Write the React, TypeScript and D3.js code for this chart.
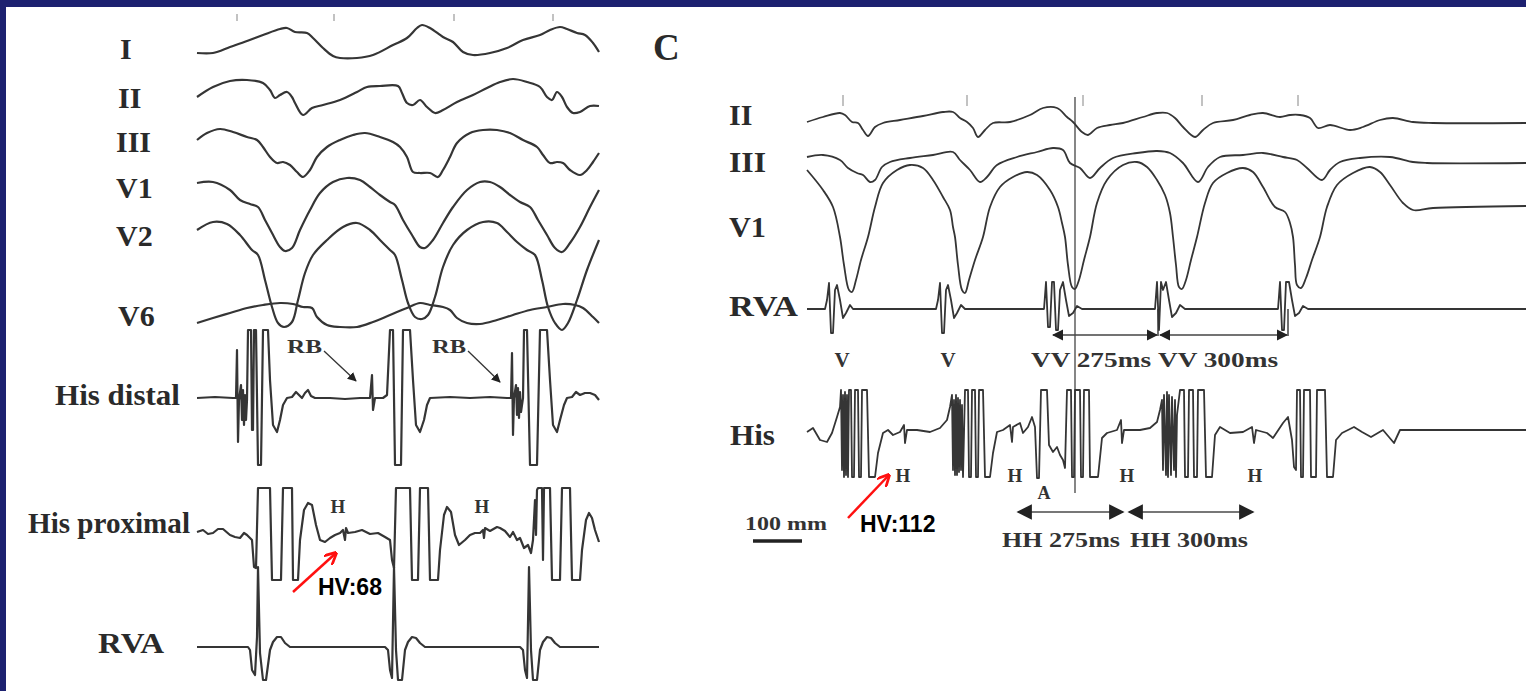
import React from "react";
import * as d3 from "d3";

type Pt = [number, number];

// ---------- Left panel traces: [time (samples), amplitude] ----------
const leftI: Pt[] = [[0,-3],[16,-3],[33,3],[50,9],[66,15],[83,21],[90,22],[98,18],[110,17],[116,12],[126,2],[136,-6],[143,-8],[160,-8],[176,-5],[196,5],[210,12],[220,22],[225,25],[233,22],[246,13],[256,8],[266,-2],[276,-5],[293,-3],[310,2],[326,10],[343,15],[353,20],[363,23],[370,21],[380,17],[388,15],[396,7],[402,-2]];
const leftII: Pt[] = [[0,0],[16,10],[33,16],[50,17],[66,14],[73,7],[78,-1],[83,2],[90,5],[95,0],[98,-6],[106,-18],[115,-11],[126,-8],[143,-3],[160,5],[170,10],[183,11],[201,11],[205,4],[210,-6],[216,-8],[223,-3],[230,-10],[238,-16],[246,-13],[260,-5],[276,2],[290,9],[303,15],[316,18],[330,15],[343,10],[350,0],[355,-3],[360,5],[365,0],[370,-10],[376,-16],[383,-15],[393,-9],[402,-9]];
const leftIII: Pt[] = [[0,0],[10,7],[23,11],[36,8],[50,3],[60,0],[66,-7],[73,-17],[80,-23],[86,-22],[93,-25],[100,-32],[106,-37],[113,-30],[120,-17],[130,-7],[143,0],[156,5],[168,7],[183,3],[196,-2],[203,-7],[210,-17],[216,-32],[223,-33],[233,-33],[241,-37],[246,-30],[253,-17],[260,-3],[273,7],[286,10],[300,10],[313,7],[326,0],[340,-7],[346,-15],[353,-23],[360,-22],[366,-23],[373,-30],[383,-35],[390,-30],[396,-22],[402,-13]];
const leftV1: Pt[] = [[0,2],[16,3],[33,-5],[43,-15],[53,-19],[61,-22],[68,-35],[75,-48],[83,-62],[88,-66],[95,-63],[103,-45],[113,-25],[123,-8],[136,3],[150,7],[163,5],[173,-2],[183,-10],[193,-17],[198,-20],[206,-35],[215,-50],[223,-62],[228,-63],[236,-55],[246,-38],[256,-22],[270,-5],[283,3],[293,3],[303,-2],[313,-10],[323,-17],[333,-22],[341,-35],[350,-50],[358,-63],[365,-67],[373,-58],[383,-42],[393,-22],[402,-5]];
const leftV2: Pt[] = [[0,7],[16,15],[30,13],[43,2],[55,-13],[61,-18],[68,-43],[75,-70],[81,-86],[87,-90],[95,-85],[101,-63],[108,-36],[116,-18],[130,-3],[146,10],[160,14],[173,7],[183,-3],[193,-13],[198,-18],[205,-43],[211,-66],[218,-80],[225,-82],[231,-78],[238,-60],[246,-30],[256,-8],[270,7],[286,15],[300,14],[310,5],[320,-5],[330,-13],[338,-18],[345,-43],[351,-70],[358,-86],[365,-93],[371,-86],[380,-63],[390,-33],[402,-3]];
const leftV6: Pt[] = [[0,-5],[16,0],[33,5],[50,10],[66,13],[83,15],[96,14],[106,11],[115,10],[120,1],[130,-7],[143,-9],[160,-9],[176,-4],[193,3],[210,10],[223,15],[233,13],[246,11],[253,8],[260,0],[270,-5],[283,-6],[300,-2],[316,3],[333,8],[350,11],[366,14],[378,13],[386,10],[396,1],[402,-5]];
const leftHisDistal: Pt[] = [[0,0],[18,1],[36,0],[39,0],[40,48],[41,-44],[42,-2],[44,13],[45,-22],[46,8],[47,-27],[48,3],[49,-22],[50,-2],[51,68],[54,68],[55,-32],[56,-32],[57,68],[59,68],[61,-67],[64,-67],[66,68],[71,68],[73,18],[76,-27],[80,-34],[83,-22],[86,-7],[90,0],[95,1],[99,6],[102,3],[105,0],[108,5],[111,8],[114,2],[118,0],[133,0],[148,-1],[163,0],[173,0],[175,23],[176,-12],[178,0],[186,0],[190,3],[193,68],[196,68],[198,-67],[204,-67],[206,68],[213,68],[216,18],[219,-27],[223,-34],[227,-22],[230,-7],[233,0],[253,1],[273,0],[293,1],[310,0],[314,0],[315,45],[316,-37],[317,0],[319,13],[320,-17],[321,10],[322,-20],[323,6],[324,-14],[326,0],[327,68],[330,68],[333,-67],[340,-67],[343,68],[350,68],[353,18],[356,-27],[360,-34],[363,-22],[367,-7],[370,0],[375,1],[379,6],[383,3],[388,5],[393,5],[398,3],[402,-2]];
const leftHisProximal: Pt[] = [[0,3],[6,5],[11,1],[16,2],[21,6],[26,6],[33,0],[38,-2],[43,-3],[47,2],[50,0],[55,-5],[57,-32],[59,-33],[61,47],[73,47],[75,-45],[84,-45],[86,47],[95,47],[96,-45],[101,-45],[103,-5],[107,25],[111,32],[115,30],[119,10],[123,-5],[128,-7],[133,-3],[138,0],[143,2],[146,5],[148,-5],[149,7],[151,2],[158,3],[165,5],[173,1],[181,2],[188,-2],[193,-5],[195,-25],[197,-33],[199,47],[213,47],[215,-45],[221,-45],[223,47],[231,47],[233,-45],[241,-45],[243,-15],[247,20],[250,28],[254,23],[258,0],[262,-10],[268,-5],[273,0],[278,2],[283,2],[286,5],[287,-3],[288,7],[293,4],[300,8],[303,7],[308,4],[313,-2],[316,3],[320,-5],[323,-3],[327,-13],[331,-10],[334,-18],[336,-5],[338,35],[339,0],[340,45],[341,47],[345,47],[346,-25],[347,47],[353,47],[355,-45],[363,-45],[365,47],[373,47],[375,-45],[383,-45],[385,-15],[389,15],[392,22],[395,17],[398,5],[402,-7]];
const leftRVA: Pt[] = [[0,0],[51,0],[53,-3],[55,-23],[58,-28],[60,10],[61,80],[63,-6],[66,-33],[69,-33],[73,-3],[76,5],[80,10],[84,10],[88,4],[93,0],[188,0],[191,-3],[193,-23],[195,-31],[197,80],[199,-3],[201,-33],[205,-33],[208,-3],[211,5],[215,10],[219,9],[223,4],[228,0],[323,0],[326,-3],[328,-23],[330,-31],[332,80],[334,-3],[336,-33],[340,-33],[343,-3],[346,5],[350,10],[354,9],[358,4],[363,0],[402,0]];

// ---------- Right panel (C) traces ----------
const rightII: Pt[] = [[0,-2],[16,3],[33,7],[38,5],[45,-2],[51,-3],[56,-10],[61,-16],[68,-7],[76,-3],[93,0],[116,4],[136,8],[146,8],[153,2],[160,-2],[166,-8],[171,-17],[178,-10],[186,-3],[203,-2],[223,5],[236,12],[250,12],[260,3],[266,-2],[275,-12],[281,-15],[290,-8],[303,-5],[316,-3],[336,3],[350,7],[360,7],[368,2],[376,-7],[388,-17],[396,-10],[406,-3],[426,0],[443,5],[456,7],[473,3],[483,5],[493,5],[503,2],[511,-8],[523,-5],[543,-10],[556,-7],[573,0],[586,2],[606,-2],[626,-3],[719,-3]];
const rightIII: Pt[] = [[0,3],[16,5],[33,0],[41,-8],[50,-13],[56,-15],[63,-22],[68,-20],[75,-7],[83,-2],[103,2],[126,5],[146,8],[153,0],[163,-10],[173,-22],[180,-17],[190,-5],[210,3],[230,8],[246,12],[256,10],[263,-3],[273,-8],[283,-18],[293,-8],[306,2],[330,7],[350,9],[363,7],[376,-3],[391,-22],[401,-7],[413,3],[436,5],[456,7],[476,3],[490,0],[500,-8],[515,-20],[523,-10],[533,-2],[553,2],[583,3],[606,-2],[620,-3],[719,-3]];
const rightV1: Pt[] = [[0,40],[16,20],[26,3],[33,-27],[37,-55],[42,-80],[45,-82],[49,-70],[54,-50],[61,-27],[68,3],[76,27],[90,40],[103,45],[116,42],[126,30],[136,13],[143,0],[146,-17],[148,-27],[151,-55],[155,-80],[158,-83],[162,-70],[168,-50],[176,-27],[183,3],[193,23],[206,33],[220,38],[230,35],[243,20],[251,3],[255,-13],[258,-27],[261,-55],[265,-77],[268,-79],[272,-70],[277,-50],[283,-27],[290,7],[300,30],[316,45],[330,48],[340,43],[350,30],[358,15],[363,-3],[366,-27],[369,-55],[372,-77],[375,-79],[379,-70],[384,-50],[390,-27],[398,7],[406,27],[420,37],[436,42],[446,38],[456,23],[468,3],[478,-2],[483,-13],[486,-27],[488,-55],[490,-75],[494,-78],[499,-68],[505,-50],[513,-27],[520,3],[530,25],[546,37],[563,43],[573,38],[583,25],[596,7],[606,0],[626,2],[719,4]];
const rightRVA: Pt[] = [[0,0],[18,0],[20,9],[22,26],[24,-24],[26,-24],[28,19],[30,24],[33,9],[36,-9],[39,-4],[43,4],[46,0],[129,0],[131,9],[133,26],[135,-24],[137,-24],[139,19],[141,24],[144,9],[147,-9],[150,-4],[154,4],[158,0],[237,0],[239,27],[241,-18],[243,-18],[245,27],[247,27],[249,-21],[251,-21],[253,19],[256,27],[259,9],[262,-7],[266,-4],[270,3],[275,0],[348,0],[350,27],[352,-21],[354,27],[356,19],[359,27],[362,9],[365,-8],[369,-4],[373,4],[378,0],[471,0],[473,27],[475,-21],[477,-21],[479,27],[482,27],[485,9],[488,-7],[492,-4],[496,3],[501,0],[719,0]];
const rightHis: Pt[] = [[0,0],[6,4],[13,-8],[20,-10],[25,-1],[30,15],[33,25],[34,42],[35,-38],[36,37],[37,-45],[38,40],[39,-43],[40,37],[41,-45],[42,42],[44,42],[45,-45],[47,-45],[48,42],[51,42],[52,-45],[54,-45],[55,42],[60,42],[62,-45],[68,-45],[71,-21],[76,-1],[81,2],[86,-3],[93,0],[97,7],[98,-11],[100,2],[110,2],[123,0],[133,4],[140,12],[143,25],[145,37],[146,-38],[147,32],[148,-43],[149,37],[150,-43],[151,34],[152,-40],[153,32],[154,-38],[155,27],[156,-45],[158,42],[161,42],[162,-45],[164,-45],[165,42],[168,42],[169,-45],[171,-45],[172,42],[176,42],[178,-45],[183,-45],[186,-21],[190,0],[196,2],[203,7],[205,-10],[206,5],[213,9],[216,-1],[221,5],[225,15],[228,5],[230,-46],[232,-46],[234,42],[240,42],[242,-13],[246,-20],[250,-15],[253,-23],[256,-28],[258,-36],[260,42],[264,42],[265,-45],[267,-45],[268,42],[273,42],[274,-45],[276,-45],[277,42],[282,42],[283,-45],[291,-45],[295,-6],[300,-1],[310,2],[314,12],[315,-11],[317,2],[333,2],[343,4],[350,10],[353,22],[355,32],[356,-38],[357,37],[359,-43],[360,40],[361,-45],[362,37],[364,-43],[365,35],[367,-38],[368,32],[369,-45],[370,17],[373,42],[377,42],[378,-45],[381,-45],[382,42],[386,42],[387,-45],[390,-45],[391,42],[397,42],[399,-45],[405,-45],[408,-3],[413,5],[423,-1],[436,0],[445,5],[447,-11],[449,2],[460,-1],[466,-6],[476,9],[481,15],[485,-8],[487,-35],[489,-38],[490,42],[493,42],[494,-45],[496,-45],[497,42],[503,42],[504,-45],[509,-45],[510,42],[518,42],[520,-45],[526,-45],[529,-8],[535,-1],[547,5],[555,0],[564,-5],[576,2],[587,-11],[593,2],[622,2],[719,2]];

// ---------- Timing marks and annotations (time positions) ----------
const leftTimeTicks = [40, 137, 257, 356];
const rightTimeTicks = [36, 160, 276, 395, 491];
const rightMarkerTime = 268;
const leftHLabels = [141, 285];
const rightHLabels = [96, 208, 320, 448];
const rightVLabels = [35, 141];
const rightALabel = 237;
// [start, end, label centre, text]
const vvIntervals: [number, number, number, string][] = [[246, 350, 284, "VV 275ms"], [353, 480, 411, "VV 300ms"]];
const hhIntervals: [number, number, number, string][] = [[211, 316, 254, "HH 275ms"], [322, 446, 382, "HH 300ms"]];

const W = 1526, H = 691;
const xL = d3.scaleLinear().domain([0, 403]).range([197, 600]);
const xR = d3.scaleLinear().domain([0, 719]).range([807, 1526]);
const amp = (base: number) => d3.scaleLinear().domain([-100, 100]).range([base + 100, base - 100]);

const leftLeads = [
  { label: "I", data: leftI, base: 50, lx: 120, ly: 59, smooth: true },
  { label: "II", data: leftII, base: 97, lx: 118, ly: 108, smooth: true },
  { label: "III", data: leftIII, base: 140, lx: 116, ly: 152, smooth: true },
  { label: "V1", data: leftV1, base: 185, lx: 116, ly: 198, smooth: true },
  { label: "V2", data: leftV2, base: 237, lx: 116, ly: 246, smooth: true },
  { label: "V6", data: leftV6, base: 318, lx: 118, ly: 326, smooth: true },
  { label: "His distal", data: leftHisDistal, base: 398, lx: 55, ly: 405, len: 125 },
  { label: "His proximal", data: leftHisProximal, base: 535, lx: 28, ly: 533, len: 162 },
  { label: "RVA", data: leftRVA, base: 647, lx: 98, ly: 653, len: 66 },
];
const rightLeads = [
  { label: "II", data: rightII, base: 120, lx: 729, ly: 125, smooth: true },
  { label: "III", data: rightIII, base: 160, lx: 729, ly: 172, len: 37, smooth: true },
  { label: "V1", data: rightV1, base: 210, lx: 729, ly: 237, len: 37, smooth: true },
  { label: "RVA", data: rightRVA, base: 309, lx: 729, ly: 316, len: 69 },
  { label: "His", data: rightHis, base: 432, lx: 730, ly: 445, len: 45 },
];

const serif = "'Liberation Serif', 'Times New Roman', serif";
const sans = "'Liberation Sans', Arial, sans-serif";

export default function App() {
  const pathFor = (data: Pt[], xs: d3.ScaleLinear<number, number>, base: number, smooth?: boolean) => {
    const ys = amp(base);
    const gen = d3.line<Pt>().x((d) => xs(d[0])).y((d) => ys(d[1]));
    if (smooth) gen.curve(d3.curveCatmullRom.alpha(0.5));
    return gen(data) || "";
  };
  return (
    <div style={{ position: "absolute", left: 0, top: 0, width: W, height: H }}>
      <svg width={W} height={H} style={{ display: "block" }}>
        <defs>
          <marker id="blk" viewBox="0 0 10 10" refX="9" refY="5" markerWidth="7" markerHeight="7" orient="auto-start-reverse">
            <path d="M0,0 L10,5 L0,10 z" fill="#222" />
          </marker>
          <marker id="red" viewBox="0 0 10 10" refX="9" refY="5" markerWidth="5" markerHeight="5" orient="auto">
            <path d="M0,0 L10,5 L0,10" fill="none" stroke="#ff1010" strokeWidth="2.2" />
          </marker>
        </defs>
        <rect x={0} y={0} width={W} height={H} fill="#ffffff" />
        <rect x={0} y={0} width={W} height={7} fill="#1d2170" />
        <rect x={0} y={0} width={6} height={H} fill="#1d2170" />

        {/* Left panel */}
        {leftTimeTicks.map((t, i) => (
          <line key={"lt" + i} x1={xL(t)} x2={xL(t)} y1={14} y2={21} stroke="#999" strokeWidth={1.2} />
        ))}
        {leftLeads.map((l) => (
          <g key={"L" + l.label}>
            <path d={pathFor(l.data, xL, l.base, l.smooth)} fill="none" stroke="#353535" strokeWidth={2.2} strokeLinejoin="round" />
            <text x={l.lx} y={l.ly} fontFamily={serif} fontWeight="bold" fontSize={30} fill="#2a2a2a"
              {...(l.len ? { textLength: l.len, lengthAdjust: "spacingAndGlyphs" } : {})}>{l.label}</text>
          </g>
        ))}
        <text x={287} y={353} fontFamily={serif} fontWeight="bold" fontSize={19} fill="#333" textLength={35} lengthAdjust="spacingAndGlyphs">RB</text>
        <text x={432} y={353} fontFamily={serif} fontWeight="bold" fontSize={19} fill="#333" textLength={34} lengthAdjust="spacingAndGlyphs">RB</text>
        <line x1={324} y1={351} x2={356} y2={381} stroke="#333" strokeWidth={1.3} markerEnd="url(#blk)" />
        <line x1={468} y1={351} x2={500} y2={382} stroke="#333" strokeWidth={1.3} markerEnd="url(#blk)" />
        {leftHLabels.map((t, i) => (
          <text key={"lh" + i} x={xL(t)} y={513} textAnchor="middle" fontFamily={serif} fontWeight="bold" fontSize={19} fill="#333">H</text>
        ))}
        <line x1={293} y1={592} x2={336} y2={553} stroke="#ff1010" strokeWidth={2.5} markerEnd="url(#red)" />
        <text x={318} y={595} fontFamily={sans} fontWeight="bold" fontSize={23} fill="#000">HV:68</text>

        {/* Right panel */}
        <text x={653} y={60} fontFamily={serif} fontWeight="bold" fontSize={37} fill="#2a2a2a">C</text>
        {rightTimeTicks.map((t, i) => (
          <line key={"rt" + i} x1={xR(t)} x2={xR(t)} y1={95} y2={106} stroke="#999" strokeWidth={1.2} />
        ))}
        <line x1={xR(rightMarkerTime)} x2={xR(rightMarkerTime)} y1={97} y2={493} stroke="#444" strokeWidth={1.3} />
        {rightLeads.map((l) => (
          <g key={"R" + l.label}>
            <path d={pathFor(l.data, xR, l.base, l.smooth)} fill="none" stroke="#353535" strokeWidth={1.8} strokeLinejoin="round" />
            <text x={l.lx} y={l.ly} fontFamily={serif} fontWeight="bold" fontSize={30} fill="#2a2a2a"
              {...(l.len ? { textLength: l.len, lengthAdjust: "spacingAndGlyphs" } : {})}>{l.label}</text>
          </g>
        ))}
        {rightVLabels.map((t, i) => (
          <text key={"rv" + i} x={xR(t)} y={367} textAnchor="middle" fontFamily={serif} fontWeight="bold" fontSize={21} fill="#333">V</text>
        ))}
        {vvIntervals.map(([a, b, c, lab], i) => (
          <g key={"vv" + i}>
            <line x1={xR(a)} x2={xR(b)} y1={335} y2={335} stroke="#444" strokeWidth={1.6} markerStart="url(#blk)" markerEnd="url(#blk)" />
            <line x1={xR(b) + 1} x2={xR(b) + 1} y1={309} y2={336} stroke="#333" strokeWidth={1.4} />
            <text x={xR(c)} y={367} textAnchor="middle" fontFamily={serif} fontWeight="bold" fontSize={20} fill="#333" textLength={120} lengthAdjust="spacingAndGlyphs">{lab}</text>
          </g>
        ))}
        {rightHLabels.map((t, i) => (
          <text key={"rh" + i} x={xR(t)} y={482} textAnchor="middle" fontFamily={serif} fontWeight="bold" fontSize={19} fill="#333">H</text>
        ))}
        <text x={xR(rightALabel)} y={499} textAnchor="middle" fontFamily={serif} fontWeight="bold" fontSize={18} fill="#333">A</text>
        {hhIntervals.map(([a, b, c, lab], i) => (
          <g key={"hh" + i}>
            <line x1={xR(a)} x2={xR(b)} y1={512} y2={512} stroke="#777" strokeWidth={2.2} markerStart="url(#blk)" markerEnd="url(#blk)" />
            <text x={xR(c)} y={547} textAnchor="middle" fontFamily={serif} fontWeight="bold" fontSize={20} fill="#333" textLength={118} lengthAdjust="spacingAndGlyphs">{lab}</text>
          </g>
        ))}
        <text x={745} y={530} fontFamily={serif} fontWeight="bold" fontSize={18} fill="#333" textLength={82} lengthAdjust="spacingAndGlyphs">100 mm</text>
        <line x1={753} x2={802} y1={541} y2={541} stroke="#222" strokeWidth={3.5} />
        <line x1={848} y1={518} x2={889} y2={475} stroke="#ff1010" strokeWidth={2.5} markerEnd="url(#red)" />
        <text x={860} y={532} fontFamily={sans} fontWeight="bold" fontSize={23} fill="#000">HV:112</text>
      </svg>
    </div>
  );
}
